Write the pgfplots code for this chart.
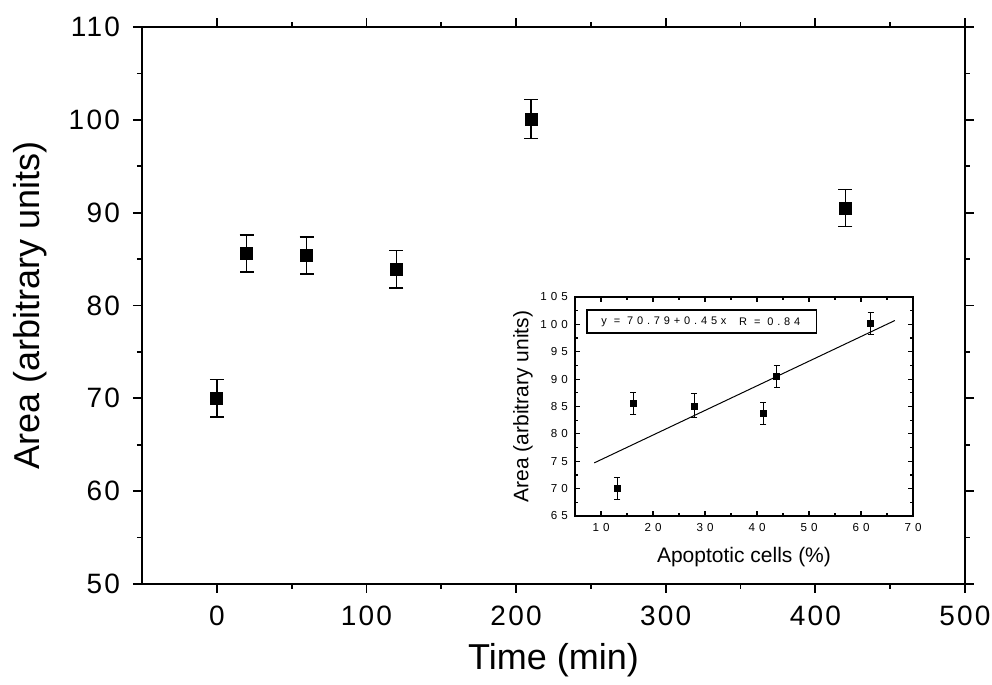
\documentclass[border=0pt]{standalone}
\usepackage{fontspec}
\setmainfont{Liberation Sans}
\newfontfamily\tickfont[LetterSpace=8]{Liberation Sans}
\newfontfamily\itickfont[LetterSpace=35]{Liberation Sans}
\usepackage{pgfplots}
\pgfplotsset{compat=1.18}
\begin{document}
\begin{tikzpicture}
\begin{axis}[
  at={(71pt,50.5pt)}, anchor=south west,
  scale only axis, width=411.5pt, height=278.5pt,
  xmin=-50, xmax=500, ymin=50, ymax=110,
  xtick={0,100,...,500}, ytick={50,60,...,110},
  minor x tick num=1, minor y tick num=1,
  tick align=outside,
  major tick length=4.5pt, minor tick length=2.5pt,
  axis line style={line width=1pt},
  every tick/.style={black, line width=0.9pt},
  /pgf/number format/assume math mode=true,
  tick label style={font=\tickfont\fontsize{14}{16}\selectfont},
  label style={font=\fontsize{18}{21}\selectfont},
  xlabel={Time (min)}, ylabel={Area (arbitrary units)},
  xlabel style={yshift=-2pt},
  ylabel style={yshift=4pt},
  xticklabel style={yshift=-3pt},
  yticklabel style={xshift=-3pt},
]
\addplot[only marks, mark=square*, mark size=3pt, black,
  error bars/.cd, y dir=both, y explicit,
  error bar style={line width=0.7pt},
  error mark options={rotate=90, mark size=3.5pt, line width=0.7pt}]
  coordinates {
  (0,70) +- (0,2)
  (20,85.6) +- (0,2)
  (60,85.4) +- (0,2)
  (120,83.9) +- (0,2)
  (210,100.1) +- (0,2.1)
  (420,90.5) +- (0,2)
  };
\end{axis}
\begin{axis}[
  at={(287.5pt,84.5pt)}, anchor=south west,
  scale only axis, width=169pt, height=109.5pt,
  xmin=5, xmax=70, ymin=65, ymax=105,
  xtick={10,20,...,70}, ytick={65,70,...,105},
  minor x tick num=1, minor y tick num=1,
  tick align=inside,
  major tick length=2.5pt, minor tick length=1.5pt,
  axis line style={line width=0.7pt},
  every tick/.style={black, line width=0.6pt},
  /pgf/number format/assume math mode=true,
  tick label style={font=\itickfont\fontsize{5.8}{6.5}\selectfont},
  label style={font=\fontsize{10.5}{12}\selectfont},
  xlabel={Apoptotic cells (\%)}, ylabel={Area (arbitrary units)},
  xlabel style={yshift=-1pt},
  ylabel style={yshift=-3pt},
]
\addplot[black, line width=0.5pt] coordinates {(8.7,74.7) (66.5,100.7)};
\addplot[only marks, mark=square*, mark size=1.5pt, black,
  error bars/.cd, y dir=both, y explicit,
  error bar style={line width=0.5pt},
  error mark options={rotate=90, mark size=1.6pt, line width=0.5pt}]
  coordinates {
  (13.1,70) +- (0,2)
  (16.2,85.6) +- (0,2)
  (27.9,85.1) +- (0,2.2)
  (41.2,83.8) +- (0,2)
  (43.8,90.5) +- (0,2)
  (61.9,100.1) +- (0,2)
  };
\draw[line width=0.7pt] (axis cs:7.3,102.6) rectangle (axis cs:51.5,98.4);
\node[anchor=west, inner sep=0pt, font=\itickfont\fontsize{5.5}{6}\selectfont] at (axis cs:10,100.5) {y = 70.79+0.45x};
\node[anchor=west, inner sep=0pt, font=\itickfont\fontsize{5.5}{6}\selectfont] at (axis cs:36.5,100.5) {R = 0.84};
\end{axis}
\pgfresetboundingbox
\path (0pt,0pt) rectangle (496pt,342.5pt);
\end{tikzpicture}
\end{document}
